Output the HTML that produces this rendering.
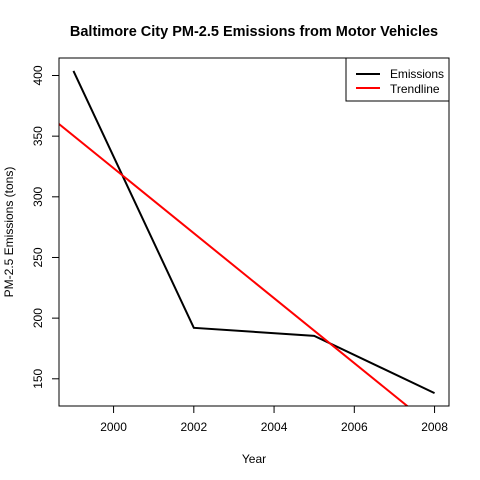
<!DOCTYPE html>
<html><head><meta charset="utf-8"><style>body{margin:0;background:#fff}svg{display:block;font-family:"Liberation Sans",sans-serif}</style></head>
<body>
<svg id="c" width="480" height="480">
<text x="254" y="36" text-anchor="middle" font-size="14.5" font-weight="bold">Baltimore City PM-2.5 Emissions from Motor Vehicles</text>
<text x="254" y="463" text-anchor="middle" font-size="12">Year</text>
<text transform="translate(13,232) rotate(-90)" text-anchor="middle" font-size="12">PM-2.5 Emissions (tons)</text>
<g id="ax"></g>
<rect x="59" y="58" width="390" height="348" fill="none" stroke="#000"/>
<g>
<rect x="346" y="58" width="103" height="43" fill="#fff" stroke="#000"/>
<line x1="356" x2="380" y1="74" y2="74" stroke="#000" stroke-width="2"/>
<text x="390" y="78" font-size="12" textLength="54">Emissions</text>
<line x1="356" x2="380" y1="88" y2="88" stroke="#f00" stroke-width="2"/>
<text x="390" y="93" font-size="12">Trendline</text>
</g>
</svg>
<script>
const years=[1999,2002,2005,2008];
const emissions=[403.8,192.0,185.4,138.2];
const xTicks=[2000,2002,2004,2006,2008];
const yTicks=[150,200,250,300,350,400];
const NS="http://www.w3.org/2000/svg";
const X0=59,X1=449,Y0=406,Y1=58;
const xmn=Math.min(...years),xmx=Math.max(...years),xe=(xmx-xmn)*0.04;
const ymn=Math.min(...emissions),ymx=Math.max(...emissions),ye=(ymx-ymn)*0.04;
const xs=v=>X0+(v-(xmn-xe))/((xmx+xe)-(xmn-xe))*(X1-X0);
const ys=v=>Y0-(v-(ymn-ye))/((ymx+ye)-(ymn-ye))*(Y0-Y1);
const ax=document.getElementById('ax');
function mk(t,a){const e=document.createElementNS(NS,t);for(const k in a)e.setAttribute(k,a[k]);return e;}
xTicks.forEach(t=>{const x=xs(t);
const l=mk('line',{x1:x,x2:x,y1:Y0,y2:Y0+7,stroke:'#000'});

ax.appendChild(l);
const s=mk('text',{x:x,y:Y0+25,'text-anchor':'middle','font-size':12});s.textContent=t;

ax.appendChild(s);});
yTicks.forEach(t=>{const y=ys(t);
const l=mk('line',{x1:X0-7,x2:X0,y1:y,y2:y,stroke:'#000'});

ax.appendChild(l);
const s=mk('text',{transform:`translate(${X0-17},${y}) rotate(-90)`,'text-anchor':'middle','font-size':12});s.textContent=t;

ax.appendChild(s);});
const cp=mk('clipPath',{id:'cl'});cp.appendChild(mk('rect',{x:X0,y:Y1,width:X1-X0,height:Y0-Y1}));ax.appendChild(cp);
const pl=mk('polyline',{points:years.map((v,i)=>xs(v)+','+ys(emissions[i])).join(' '),fill:'none',stroke:'#000','stroke-width':2});

ax.appendChild(pl);
const mx=years.reduce((a,b)=>a+b)/years.length,my=emissions.reduce((a,b)=>a+b)/emissions.length;
let sxy=0,sxx=0;years.forEach((v,i)=>{sxy+=(v-mx)*(emissions[i]-my);sxx+=(v-mx)*(v-mx);});
const b=sxy/sxx,f=v=>my+b*(v-mx);const xa=xmn-xe-1,xb=xmx+xe+1;
const tl=mk('line',{x1:xs(xa),y1:ys(f(xa)),x2:xs(xb),y2:ys(f(xb)),stroke:'#f00','stroke-width':2,'clip-path':'url(#cl)'});

ax.appendChild(tl);
</script>
</body></html>
